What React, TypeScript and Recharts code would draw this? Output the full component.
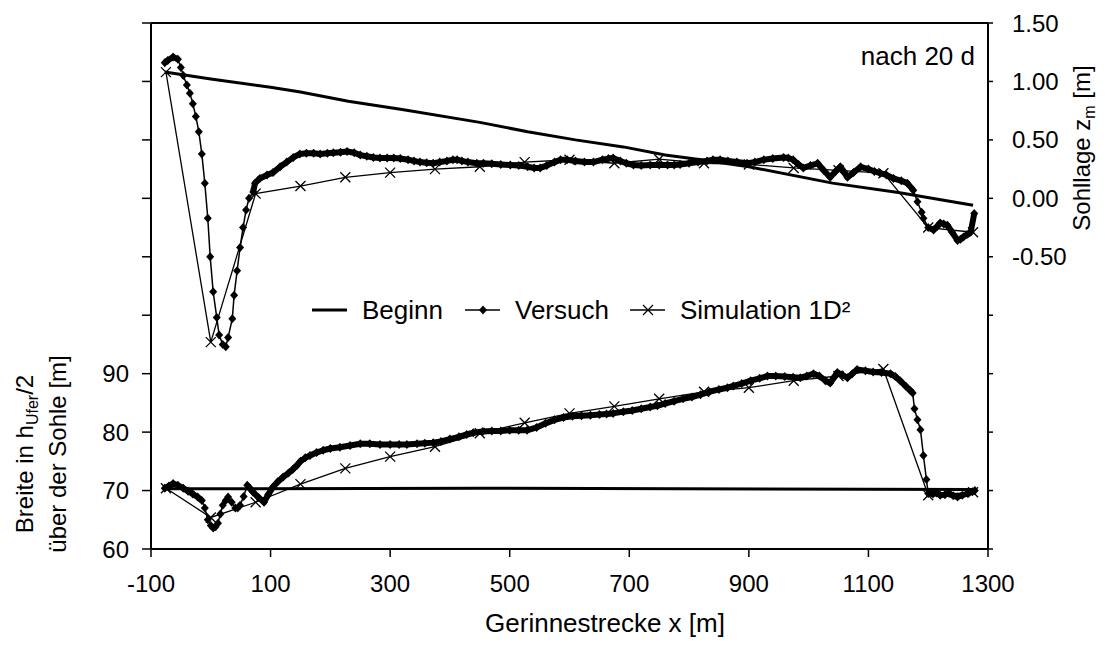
import { LineChart, Line, XAxis, YAxis, Legend, ReferenceLine } from 'recharts';

const FONT = '"Liberation Sans", Arial, sans-serif';

const xTicks = [-100, 100, 300, 500, 700, 900, 1100, 1300];
const breiteTicks = [60, 70, 80, 90, 100, 110, 120, 130, 140, 150];
const sohleTicks = [-3, -2.5, -2, -1.5, -1, -0.5, 0, 0.5, 1, 1.5];

// Sohllage z_m [m] (rechte Achse)
const beginnSohle: [number, number][] = [
  [-77, 1.08], [0, 1.02], [100, 0.95], [150, 0.91], [230, 0.83], [320, 0.76],
  [450, 0.65], [530, 0.57], [610, 0.5], [690, 0.44], [760, 0.37], [820, 0.33],
  [900, 0.27], [1040, 0.13], [1150, 0.05], [1275, -0.06],
];

const versuchSohle: [number, number][] = [
  [-77, 1.16], [-72, 1.18], [-63, 1.21], [-55, 1.19], [-50, 1.12], [-46, 1.05],
  [-40, 0.97], [-35, 0.9], [-30, 0.81], [-25, 0.7], [-20, 0.57], [-15, 0.38],
  [-10, 0.13], [-5, -0.17], [-1, -0.5], [4, -0.8], [10, -1.02], [14, -1.17],
  [20, -1.25], [25, -1.27], [29, -1.19], [36, -1.03], [39, -0.83], [44, -0.62],
  [49, -0.42], [54, -0.25], [59, -0.1], [64, 0.0], [71, 0.055], [74, 0.13],
  [82, 0.17], [94, 0.2], [104, 0.22], [116, 0.27], [127, 0.31], [138, 0.35],
  [149, 0.38], [160, 0.385], [172, 0.385], [183, 0.38], [195, 0.385], [205, 0.39],
  [217, 0.395], [228, 0.4], [240, 0.39], [250, 0.37], [261, 0.36], [272, 0.35],
  [283, 0.345], [295, 0.345], [306, 0.345], [317, 0.34], [330, 0.33], [340, 0.32],
  [350, 0.31], [361, 0.305], [372, 0.3], [383, 0.31], [395, 0.32], [405, 0.33],
  [412, 0.33], [420, 0.32], [430, 0.31], [445, 0.3], [456, 0.3], [470, 0.295],
  [485, 0.29], [501, 0.285], [515, 0.28], [530, 0.27], [541, 0.26], [551, 0.26],
  [562, 0.28], [575, 0.31], [585, 0.33], [596, 0.33], [610, 0.32], [625, 0.31],
  [640, 0.31], [655, 0.33], [665, 0.34], [673, 0.345], [685, 0.32], [695, 0.3],
  [707, 0.285], [720, 0.28], [735, 0.285], [750, 0.285], [764, 0.285], [775, 0.285],
  [785, 0.29], [800, 0.3], [815, 0.31], [830, 0.32], [840, 0.33], [852, 0.33],
  [865, 0.32], [880, 0.31], [897, 0.3], [910, 0.31], [925, 0.33], [940, 0.34],
  [958, 0.35], [966, 0.345], [974, 0.33], [983, 0.29], [991, 0.26], [1003, 0.28],
  [1015, 0.3], [1025, 0.24], [1036, 0.18], [1045, 0.23], [1053, 0.27], [1060, 0.22],
  [1065, 0.18], [1075, 0.22], [1087, 0.27], [1100, 0.25], [1110, 0.23], [1120, 0.215],
  [1130, 0.2], [1142, 0.17], [1155, 0.15], [1165, 0.13], [1175, 0.07], [1182, -0.03],
  [1189, -0.12], [1192, -0.17], [1200, -0.25], [1209, -0.27], [1215, -0.24], [1220, -0.21],
  [1226, -0.22], [1232, -0.23], [1240, -0.29], [1249, -0.36], [1254, -0.35], [1259, -0.33],
  [1265, -0.31], [1271, -0.29], [1277, -0.13],
];

const simulationSohle: [number, number][] = [
  [-75, 1.08], [0, -1.23], [75, 0.04], [150, 0.105], [225, 0.18], [300, 0.22],
  [375, 0.25], [450, 0.27], [525, 0.31], [600, 0.33], [675, 0.3], [750, 0.335],
  [825, 0.3], [900, 0.29], [975, 0.26], [1050, 0.24], [1125, 0.215], [1200, -0.25],
  [1275, -0.29],
];

// Breite in h_Ufer/2 über der Sohle [m] (linke Achse)
const beginnBreite: [number, number][] = [
  [-77, 70.3], [450, 70.4], [1275, 70.2],
];

const versuchBreite: [number, number][] = [
  [-77, 70.4], [-70, 70.8], [-63, 71.2], [-55, 70.9], [-46, 70.4], [-38, 69.9],
  [-30, 69.4], [-22, 68.9], [-15, 68.3], [-10, 67.0], [-5, 65.0], [0, 64.0],
  [4, 63.6], [8, 63.8], [12, 64.4], [16, 66.0], [20, 67.5], [25, 68.3],
  [29, 68.9], [35, 68.0], [41, 67.0], [45, 67.0], [49, 67.5], [55, 69.0],
  [61, 70.9], [66, 70.3], [71, 69.7], [80, 68.8], [89, 68.0], [96, 69.3],
  [104, 70.6], [112, 71.5], [121, 72.3], [130, 73.0], [137, 73.6], [144, 74.3],
  [150, 75.0], [158, 75.6], [166, 76.0], [177, 76.5], [188, 76.9], [200, 77.2],
  [216, 77.4], [233, 77.7], [250, 78.0], [266, 78.0], [283, 77.9], [300, 77.9],
  [315, 77.9], [328, 77.9], [345, 78.0], [358, 78.1], [372, 78.2], [385, 78.4],
  [400, 78.8], [415, 79.2], [428, 79.6], [439, 79.9], [455, 80.1], [470, 80.2],
  [485, 80.2], [500, 80.3], [515, 80.3], [529, 80.3], [545, 80.8], [560, 81.5],
  [575, 82.1], [590, 82.5], [605, 82.7], [620, 82.8], [635, 82.9], [650, 83.0],
  [662, 83.1], [673, 83.2], [690, 83.5], [705, 83.7], [720, 84.0], [735, 84.3],
  [747, 84.5], [760, 84.9], [775, 85.3], [790, 85.7], [805, 86.0], [819, 86.4],
  [834, 86.9], [850, 87.3], [864, 87.6], [874, 87.9], [888, 88.3], [903, 88.8],
  [918, 89.2], [931, 89.6], [945, 89.6], [960, 89.5], [974, 89.4], [986, 89.3],
  [997, 89.6], [1008, 90.0], [1018, 89.6], [1028, 88.8], [1036, 88.4], [1042, 89.3],
  [1048, 90.2], [1056, 89.8], [1065, 89.3], [1073, 90.0], [1081, 90.7], [1095, 90.5],
  [1108, 90.3], [1122, 90.2], [1137, 90.0], [1145, 89.5], [1153, 88.8], [1163, 87.8],
  [1170, 87.1], [1174, 86.7], [1177, 84.0], [1182, 82.1], [1187, 80.4], [1192, 76.0],
  [1197, 71.9], [1200, 69.5], [1208, 69.4], [1214, 69.6], [1220, 69.2], [1228, 69.3],
  [1235, 69.5], [1242, 69.1], [1249, 68.9], [1257, 69.2], [1266, 69.5], [1274, 69.8],
  [1278, 70.0],
];

const simulationBreite: [number, number][] = [
  [-75, 70.4], [0, 65.4], [75, 68.0], [150, 71.1], [225, 73.8], [300, 75.8],
  [375, 77.5], [450, 79.8], [525, 81.6], [600, 83.2], [675, 84.4], [750, 85.7],
  [825, 86.9], [900, 87.6], [975, 88.8], [1050, 89.6], [1125, 90.8], [1200, 69.2],
  [1275, 69.7],
];

// x-Bereiche, in denen die Messpunkte so dicht liegen, dass sie ein Band bilden
const versuchSohleDicht: [number, number][] = [[-77, -55], [71, 1175], [1200, 1277]];
const versuchBreiteDicht: [number, number][] = [[-77, -15], [61, 1174], [1200, 1278]];

const toRows = (pts: [number, number][]) => pts.map(([x, y]) => ({ x, y }));
const bandRows = (pts: [number, number][], ranges: [number, number][]) =>
  pts.map(([x, y]) => ({ x, y: ranges.some(([a, b]) => x >= a && x <= b) ? y : null }));

const Diamond = ({ cx, cy }: { cx: number; cy: number }) => (
  <polygon
    points={`${cx},${cy - 4.5} ${cx + 4},${cy} ${cx},${cy + 4.5} ${cx - 4},${cy}`}
    fill="#000"
  />
);

const Cross = ({ cx, cy }: { cx: number; cy: number }) => (
  <path
    d={`M${cx - 5},${cy - 5}L${cx + 5},${cy + 5}M${cx - 5},${cy + 5}L${cx + 5},${cy - 5}`}
    stroke="#000"
    strokeWidth={1.3}
  />
);

const diamondDot = (p: any) => <Diamond key={`d${p.index}`} cx={p.cx} cy={p.cy} />;
const crossDot = (p: any) => <Cross key={`c${p.index}`} cx={p.cx} cy={p.cy} />;

function LegendBox() {
  const text = { fontSize: 26, fontFamily: FONT, color: '#000', lineHeight: '26px' };
  return (
    <div style={{ display: 'flex', alignItems: 'center', ...text }}>
      <svg width={36} height={20}>
        <line x1={0} y1={10} x2={35} y2={10} stroke="#000" strokeWidth={3} />
      </svg>
      <span style={{ marginLeft: 14 }}>Beginn</span>
      <svg width={36} height={20} style={{ marginLeft: 22 }}>
        <line x1={0} y1={10} x2={35} y2={10} stroke="#000" strokeWidth={1.5} />
        <Diamond cx={18} cy={10} />
      </svg>
      <span style={{ marginLeft: 14 }}>Versuch</span>
      <svg width={36} height={20} style={{ marginLeft: 21 }}>
        <line x1={0} y1={10} x2={35} y2={10} stroke="#000" strokeWidth={1.3} />
        <Cross cx={18} cy={10} />
      </svg>
      <span style={{ marginLeft: 14 }}>Simulation 1D²</span>
    </div>
  );
}

export default function App() {
  const tickStyle = { fill: '#000', fontSize: 24, fontFamily: FONT };
  const axisLine = { stroke: '#000', strokeWidth: 2 };
  const tickLine = { stroke: '#000', strokeWidth: 1.5 };
  const label = { position: 'absolute' as const, fontSize: 24, fontFamily: FONT, color: '#000', lineHeight: '24px', whiteSpace: 'nowrap' as const };

  return (
    <div style={{ position: 'relative', width: 1089, height: 630, background: '#fff' }}>
      <LineChart width={1089} height={630} margin={{ top: 15, right: 0, bottom: 0, left: 0 }}>
        <XAxis
          dataKey="x"
          type="number"
          domain={[-100, 1300]}
          ticks={xTicks}
          interval={0}
          allowDataOverflow
          height={89}
          axisLine={axisLine}
          tickLine={tickLine}
          tickSize={8}
          tickMargin={18}
          tick={tickStyle}
        />
        <YAxis
          yAxisId="w"
          orientation="left"
          type="number"
          domain={[60, 150]}
          ticks={breiteTicks}
          interval={0}
          allowDataOverflow
          width={143}
          axisLine={axisLine}
          tickLine={tickLine}
          tickSize={9}
          tickMargin={13}
          tick={tickStyle}
          tickFormatter={(v: number) => (v <= 90 ? String(v) : '')}
        />
        <YAxis
          yAxisId="z"
          orientation="right"
          type="number"
          domain={[-3, 1.5]}
          ticks={sohleTicks}
          interval={0}
          allowDataOverflow
          width={109}
          axisLine={axisLine}
          tickLine={tickLine}
          tickSize={5}
          tickMargin={19}
          tick={tickStyle}
          tickFormatter={(v: number) => (v >= -0.5 ? v.toFixed(2) : '')}
        />
        <ReferenceLine yAxisId="w" y={150} stroke="#000" strokeWidth={2} />
        <Legend
          verticalAlign="middle"
          align="center"
          content={() => <LegendBox />}
          wrapperStyle={{ left: 304, top: 289, width: 640, height: 28 }}
        />
        <Line yAxisId="z" data={toRows(beginnSohle)} dataKey="y" name="Beginn" stroke="#000" strokeWidth={3} dot={false} activeDot={false} isAnimationActive={false} />
        <Line yAxisId="w" data={toRows(beginnBreite)} dataKey="y" name="Beginn" stroke="#000" strokeWidth={3} dot={false} activeDot={false} isAnimationActive={false} legendType="none" />
        <Line yAxisId="z" data={toRows(simulationSohle)} dataKey="y" name="Simulation 1D²" stroke="#000" strokeWidth={1.3} dot={crossDot} activeDot={false} isAnimationActive={false} />
        <Line yAxisId="w" data={toRows(simulationBreite)} dataKey="y" name="Simulation 1D²" stroke="#000" strokeWidth={1.3} dot={crossDot} activeDot={false} isAnimationActive={false} legendType="none" />
        <Line yAxisId="z" data={toRows(versuchSohle)} dataKey="y" name="Versuch" stroke="#000" strokeWidth={1.5} dot={diamondDot} activeDot={false} isAnimationActive={false} />
        <Line yAxisId="w" data={toRows(versuchBreite)} dataKey="y" name="Versuch" stroke="#000" strokeWidth={1.5} dot={diamondDot} activeDot={false} isAnimationActive={false} legendType="none" />
        <Line yAxisId="z" data={bandRows(versuchSohle, versuchSohleDicht)} dataKey="y" stroke="#000" strokeWidth={6} strokeLinejoin="round" dot={false} activeDot={false} isAnimationActive={false} legendType="none" />
        <Line yAxisId="w" data={bandRows(versuchBreite, versuchBreiteDicht)} dataKey="y" stroke="#000" strokeWidth={6} strokeLinejoin="round" dot={false} activeDot={false} isAnimationActive={false} legendType="none" />
      </LineChart>

      <div style={{ ...label, fontSize: 26, right: 122, top: 36 }}>nach 20 d</div>
      <div style={{ ...label, fontSize: 26, left: 597, top: 603, transform: 'translateX(-50%)' }}>Gerinnestrecke x [m]</div>
      <div style={{ ...label, left: 17, top: 446, transform: 'translate(-50%, -50%) rotate(-90deg)' }}>
        Breite in h<sub style={{ fontSize: 16, verticalAlign: -5, lineHeight: 0 }}>Ufer</sub>/2
      </div>
      <div style={{ ...label, left: 50, top: 446, transform: 'translate(-50%, -50%) rotate(-90deg)' }}>
        über der Sohle [m]
      </div>
      <div style={{ ...label, left: 1074, top: 140, transform: 'translate(-50%, -50%) rotate(-90deg)' }}>
        Sohllage z<sub style={{ fontSize: 16, verticalAlign: -5, lineHeight: 0 }}>m</sub> [m]
      </div>
    </div>
  );
}
